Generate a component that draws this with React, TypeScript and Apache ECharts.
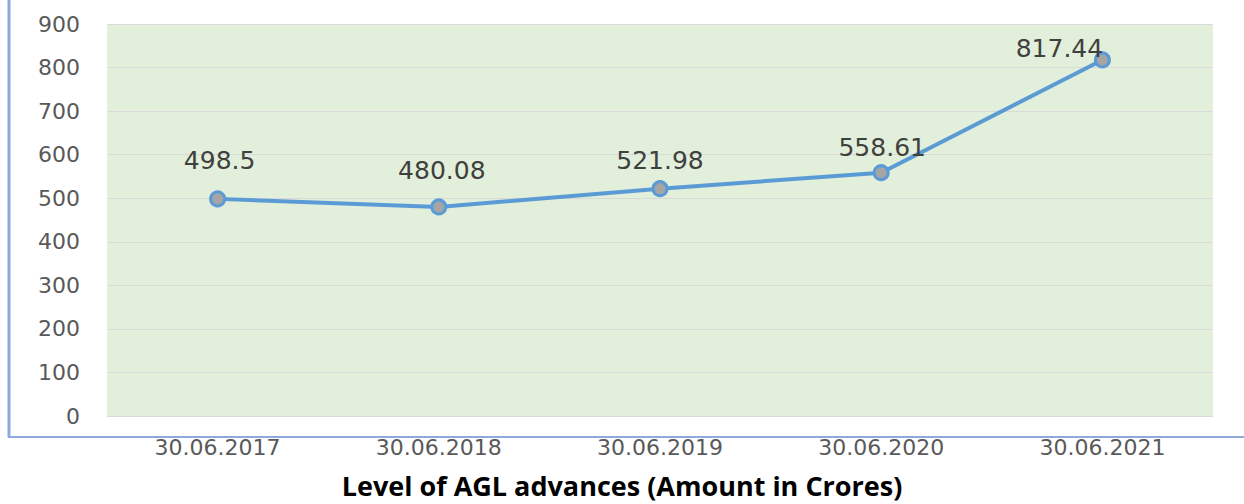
import React, { useEffect, useRef } from "react";
import * as echarts from "echarts";

const categories = ["30.06.2017", "30.06.2018", "30.06.2019", "30.06.2020", "30.06.2021"];
const values = [498.5, 480.08, 521.98, 558.61, 817.44];
const labelOffsets: [number, number][] = [[2, -12], [3, -10], [0, -2], [1, 1], [-43, 15]];
const titleText = "Level of AGL advances (Amount in Crores)";

export default function App() {
  const ref = useRef<HTMLDivElement>(null);
  useEffect(() => {
    document.body.style.margin = "0";
    const chart = echarts.init(ref.current!, undefined, { renderer: "svg" });
    chart.setOption({
      animation: false,
      grid: {
        left: 107,
        right: 31,
        top: 24,
        bottom: 88,
        show: true,
        backgroundColor: "#E2EFDA",
        borderWidth: 0,
      },
      xAxis: {
        type: "category",
        data: categories,
        boundaryGap: true,
        axisLine: { show: false },
        axisTick: { show: false },
        axisLabel: { color: "#595959", fontSize: 22, fontFamily: "DejaVu Sans", margin: 20 },
      },
      yAxis: {
        type: "value",
        min: 0,
        max: 900,
        interval: 100,
        axisLine: { show: false },
        axisTick: { show: false },
        splitLine: { lineStyle: { color: "#D9D9D9", width: 1 } },
        axisLabel: { color: "#595959", fontSize: 22, fontFamily: "DejaVu Sans", margin: 27 },
      },
      series: [
        {
          type: "line",
          data: values.map((v, i) => ({
            value: v,
            label: { offset: labelOffsets[i] },
          })),
          symbol: "circle",
          symbolSize: 14,
          lineStyle: { color: "#5B9BD5", width: 4 },
          itemStyle: { color: "#A5A5A5", borderColor: "#5B9BD5", borderWidth: 3 },
          label: {
            show: true,
            position: "top",
            distance: 5,
            color: "#404040",
            fontSize: 25,
            fontFamily: "DejaVu Sans",
          },
        },
      ],
      graphic: [
        { type: "line", shape: { x1: 9, y1: 0, x2: 9, y2: 437 }, style: { stroke: "#8EA9DB", lineWidth: 3 } },
        { type: "line", shape: { x1: 8, y1: 437, x2: 1244, y2: 437 }, style: { stroke: "#8EA9DB", lineWidth: 2 } },
        {
          type: "text",
          x: 622,
          y: 472,
          style: {
            text: titleText,
            fontSize: 27,
            fontWeight: "bold",
            fontFamily: "Open Sans",
            fill: "#000000",
            align: "center",
            verticalAlign: "top",
          },
        },
      ],
    });
    return () => chart.dispose();
  }, []);
  return <div ref={ref} style={{ width: 1244, height: 504 }} />;
}
